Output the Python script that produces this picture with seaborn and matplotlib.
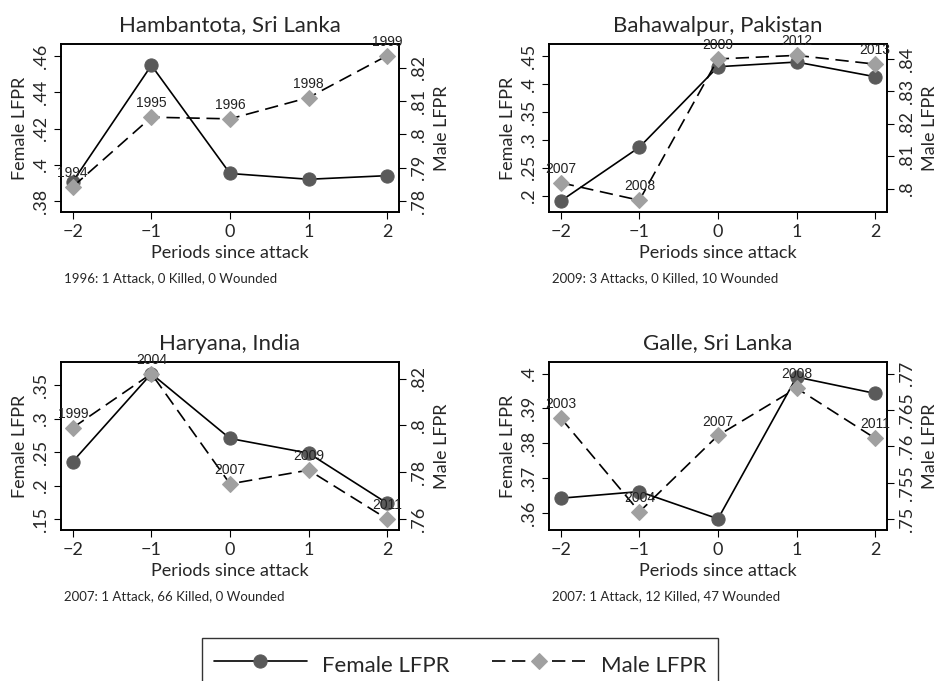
import matplotlib
matplotlib.use("Agg")
import matplotlib.pyplot as plt
import matplotlib.ticker as mticker
import seaborn as sns
import pandas as pd

sns.set_style("ticks")
plt.rcParams['font.family'] = ['Lato', 'DejaVu Sans']

periods = [-2, -1, 0, 1, 2]

titles = ["Hambantota, Sri Lanka", "Bahawalpur, Pakistan", "Haryana, India", "Galle, Sri Lanka"]
notes = ["1996: 1 Attack, 0 Killed, 0 Wounded",
         "2009: 3 Attacks, 0 Killed, 10 Wounded",
         "2007: 1 Attack, 66 Killed, 0 Wounded",
         "2007: 1 Attack, 12 Killed, 47 Wounded"]

female_hambantota = [0.3907, 0.455, 0.3952, 0.392, 0.394]
male_hambantota = [0.7843, 0.8052, 0.8047, 0.8111, 0.8237]
years_hambantota = ["1994", "1995", "1996", "1998", "1999"]

female_bahawalpur = [0.1904, 0.2869, 0.4314, 0.4398, 0.4134]
male_bahawalpur = [0.8019, 0.7965, 0.8400, 0.8411, 0.8384]
years_bahawalpur = ["2007", "2008", "2009", "2012", "2013"]

female_haryana = [0.236, 0.3675, 0.2705, 0.2485, 0.1735]
male_haryana = [0.799, 0.8221, 0.775, 0.7809, 0.760]
years_haryana = ["1999", "2004", "2007", "2009", "2011"]

female_galle = [0.3643, 0.3662, 0.3584, 0.399, 0.3943]
male_galle = [0.7639, 0.7510, 0.7615, 0.768, 0.7611]
years_galle = ["2003", "2004", "2007", "2008", "2011"]

# tick values and limits for each panel (left axis, right axis)
female_ticks = [[.38, .40, .42, .44, .46], [.2, .25, .3, .35, .4, .45],
                [.15, .2, .25, .3, .35], [.36, .37, .38, .39, .40]]
male_ticks = [[.78, .79, .80, .81, .82], [.80, .81, .82, .83, .84],
              [.76, .78, .80, .82], [.75, .755, .76, .765, .77]]
female_lims = [(.3739, .4668), (.1706, .4722), (.1335, .385), (.3552, .4033)]
male_lims = [(.7767, .8272), (.7929, .8446), (.7553, .8271), (.7485, .7716)]

panels = [
    (female_hambantota, male_hambantota, years_hambantota),
    (female_bahawalpur, male_bahawalpur, years_bahawalpur),
    (female_haryana, male_haryana, years_haryana),
    (female_galle, male_galle, years_galle),
]

# axes rectangles in pixels: left, top, right, bottom
W, H = 938, 681
rects = [(61, 44, 399, 212), (549, 44, 887, 212), (61, 362, 399, 530), (549, 362, 887, 530)]
note_pos = [(64, 278), (552, 278), (64, 596), (552, 596)]


def stata_fmt(v, pos):
    s = f"{v:.3f}".rstrip("0").rstrip(".")
    if s.startswith("0."):
        s = s[1:]
    elif s.startswith("-0."):
        s = "-" + s[2:]
    return s


fig = plt.figure(figsize=(W / 100, H / 100), dpi=100)
female_col = "#5a5a5a"
male_col = "#a0a0a0"

for i, (fem, mal, yrs) in enumerate(panels):
    l, t, r, b = rects[i]
    ax = fig.add_axes([l / W, 1 - b / H, (r - l) / W, (b - t) / H])
    df = pd.DataFrame({"period": periods, "female": fem, "male": mal, "year": yrs})

    sns.lineplot(data=df, x="period", y="female", ax=ax, color="black", lw=1.2,
                 marker="o", markersize=9.5, markerfacecolor=female_col,
                 markeredgecolor=female_col, label="Female LFPR", legend=False)
    ax2 = ax.twinx()
    sns.lineplot(data=df, x="period", y="male", ax=ax2, color="black", lw=1.2,
                 linestyle=(0, (8, 4)), marker="D", markersize=8,
                 markerfacecolor=male_col, markeredgecolor=male_col,
                 label="Male LFPR", legend=False)
    for x, y, s in zip(periods, mal, yrs):
        ax2.annotate(s, (x, y), xytext=(0, 5), textcoords="offset points",
                     ha="center", va="bottom", fontsize=10, color="#222222",
                     family=["Liberation Sans", "DejaVu Sans"])

    ax.set_xlim(-2.15, 2.15)
    ax.set_xticks(periods)
    ax.set_yticks(female_ticks[i])
    ax.set_ylim(*female_lims[i])
    ax2.set_yticks(male_ticks[i])
    ax2.set_ylim(*male_lims[i])
    ax.yaxis.set_major_formatter(mticker.FuncFormatter(stata_fmt))
    ax2.yaxis.set_major_formatter(mticker.FuncFormatter(stata_fmt))
    ax.tick_params(axis="x", labelsize=13, length=5, color="black")
    ax.tick_params(axis="y", labelsize=13, length=5, labelrotation=90, color="black")
    ax2.tick_params(axis="y", labelsize=13, length=5, labelrotation=90, color="black")
    for lab in ax.get_yticklabels() + ax2.get_yticklabels():
        lab.set_va("center")
    ax.set_xlabel("Periods since attack", fontsize=13, labelpad=4)
    ax.set_ylabel("Female LFPR", fontsize=13, labelpad=4)
    ax2.set_ylabel("Male LFPR", fontsize=13, labelpad=5)
    ax.set_title(titles[i], fontsize=16, pad=9)
    for a in (ax, ax2):
        for sp in a.spines.values():
            sp.set_color("black")
            sp.set_linewidth(1.2)
    ax.grid(False)
    ax2.grid(False)
    nx, ny = note_pos[i]
    fig.text(nx / W, 1 - ny / H, notes[i], fontsize=9.5, va="center", ha="left")

    if i == 0:
        h1, l1 = ax.get_legend_handles_labels()
        h2, l2 = ax2.get_legend_handles_labels()
        handles, labels = h1 + h2, l1 + l2

leg = fig.legend(handles, labels, loc="upper center", bbox_to_anchor=(460 / W, 1 - 638 / H),
                 ncol=2, fontsize=16, frameon=True, fancybox=False, edgecolor="black",
                 handlelength=4.2, handletextpad=0.7, columnspacing=1.9,
                 handleheight=1.8, borderpad=0.5, borderaxespad=0)
leg.get_frame().set_linewidth(1.0)

fig.savefig("out.png", dpi=100)
